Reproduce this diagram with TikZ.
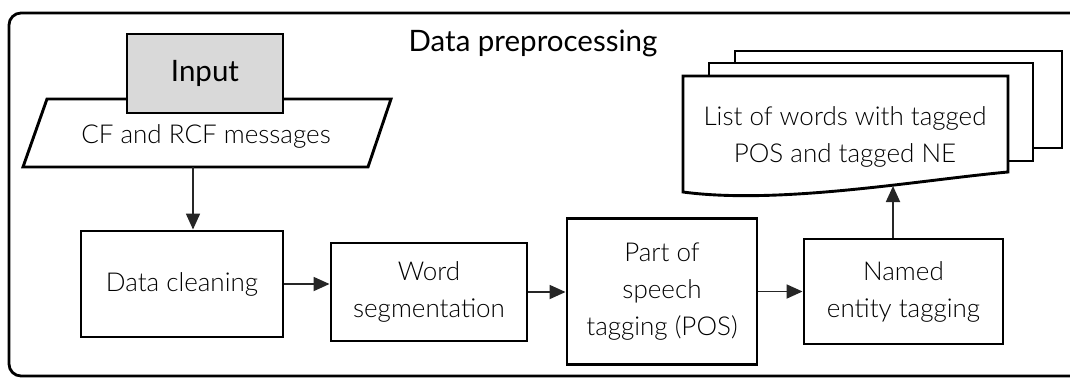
\documentclass[tikz,border=0pt]{standalone}
\usepackage{fontspec}
\setmainfont{Lato}
\newfontfamily\lightfont{Lato Light}
\usetikzlibrary{arrows.meta}

\definecolor{inputgray}{HTML}{D9D9D9}
\definecolor{linkcol}{HTML}{262626}

\tikzset{
  bodytext/.style={font=\lightfont\fontsize{26}{37}\selectfont},
  headtext/.style={font=\fontsize{29.5}{34}\selectfont},
  stepbox/.style={draw=black, line width=2.9pt, fill=white, inner sep=0pt,
    align=center, bodytext},
  shapeline/.style={draw=black, line width=2.9pt, fill=white},
  flow/.style={draw=linkcol, line width=1.8pt, -{Triangle[length=16pt,width=14pt]}},
}

\begin{document}
\begin{tikzpicture}[x=1pt,y=-1pt]
  \useasboundingbox (0,0) rectangle (1070,378);
  \clip (0,0) rectangle (1070,378);

  % outer frame of the preprocessing stage
  \draw[line width=2.8pt, rounded corners=12pt] (9,13) rectangle (1100,376);
  \node[headtext] (title) at (533,43) {Data preprocessing};

  % stacked output documents
  \path[shapeline] (735,51) rectangle (1062,148);
  \path[shapeline] (709,63) rectangle (1033,161);
  \path[shapeline] (683,192) -- (683,76) -- (1008,76) -- (1008,172)
    .. controls (920,180) and (780,205) .. (683,192) -- cycle;
  \node[bodytext, align=center] (docs) at (845,137)
    {List of words with tagged\\POS and tagged NE};
  \coordinate (docbot) at (893,186);

  % input data (parallelogram) with its header box
  \path[shapeline] (47,99) -- (391,99) -- (368,167) -- (23,167) -- cycle;
  \node[bodytext] (msg) at (206,136) {CF and RCF messages};
  \coordinate (msgbot) at (193,167);
  \node[draw=black, line width=2.9pt, fill=inputgray, minimum width=156pt,
    minimum height=79pt, headtext] (input) at (205,73.5) {Input};

  % processing steps
  \node[stepbox, minimum width=202pt, minimum height=106pt] (clean) at (182,284)
    {Data cleaning};
  \node[stepbox, minimum width=196pt, minimum height=98pt] (word) at (429,292)
    {Word\\segmentation};
  \node[stepbox, minimum width=190pt, minimum height=146pt] (pos) at (662,291.5)
    {Part of\\speech\\tagging (POS)};
  \node[stepbox, minimum width=199pt, minimum height=105pt] (ner) at (903.5,291.5)
    {Named\\entity tagging};

  % connectors
  \draw[flow] (msgbot) -- (msgbot |- clean.north);
  \draw[flow] (clean.east) -- (clean.east -| word.west);
  \draw[flow] (word.east) -- (word.east -| pos.west);
  \draw[flow] (pos.east) -- (pos.east -| ner.west);
  \draw[flow] (docbot |- ner.north) -- (docbot);
\end{tikzpicture}
\end{document}
